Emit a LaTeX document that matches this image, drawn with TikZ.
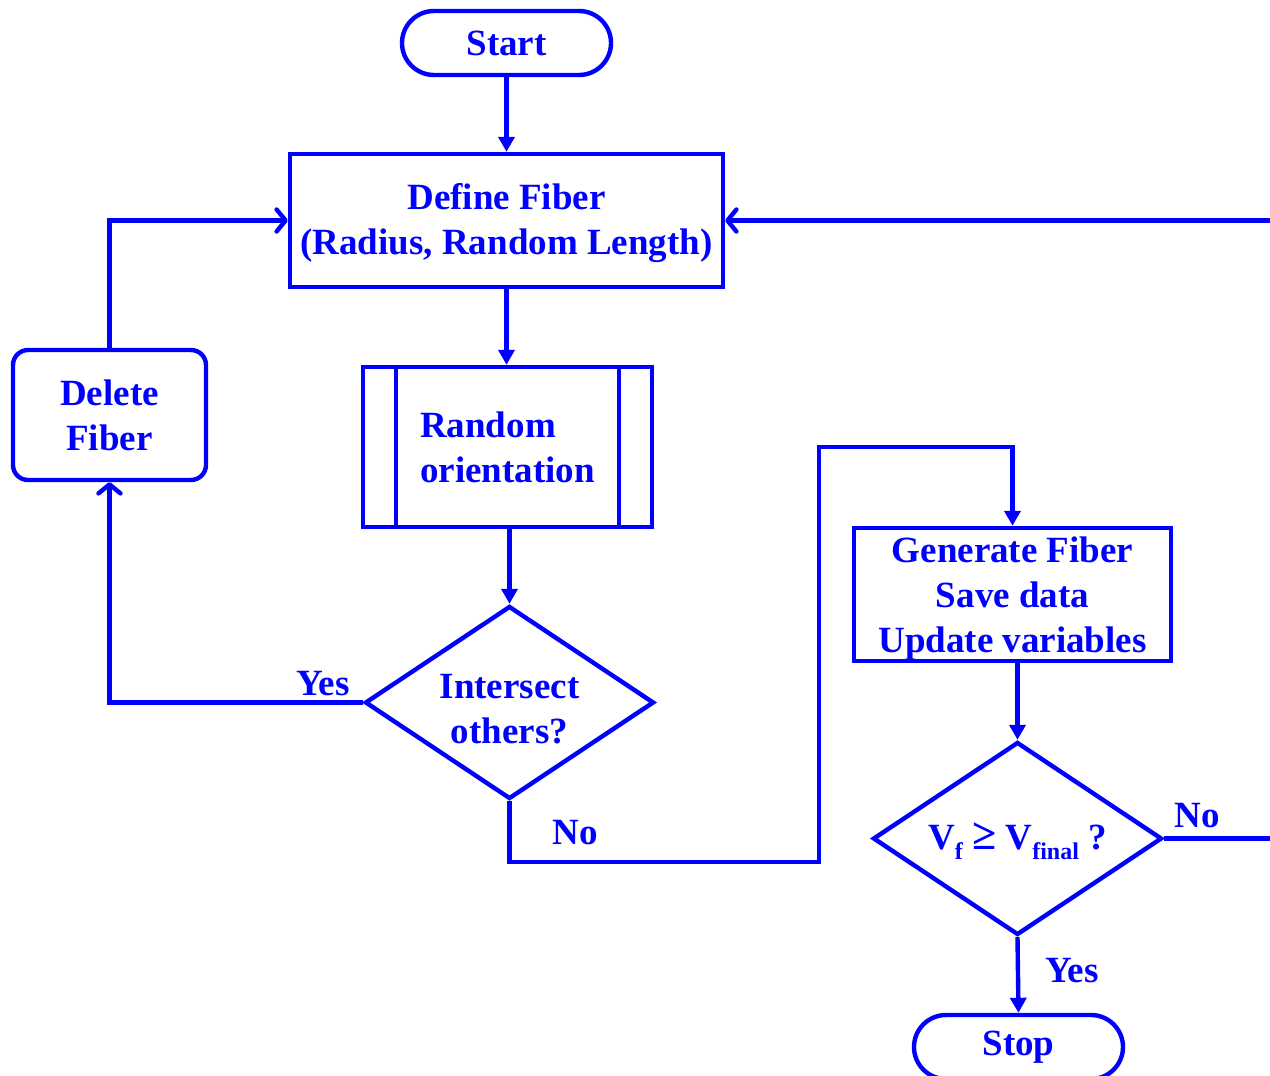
\documentclass[tikz,border=0pt]{standalone}
\usepackage{fontspec}
\setmainfont{Liberation Serif}
\usetikzlibrary{arrows.meta,shapes.geometric}
\definecolor{flowblue}{RGB}{0,0,255}
\newcommand{\lowidx}[1]{\raisebox{-0.6ex}{\fontsize{24}{24}\selectfont #1}}

\begin{document}
\begin{tikzpicture}[
  x=1pt, y=-1pt,
  flowblue, line width=4.4pt,
  font=\fontsize{37}{45}\selectfont\bfseries,
  term/.style={draw, rounded corners=32pt, minimum width=209pt, minimum height=64pt},
  proc/.style={draw, align=center, inner sep=0pt},
  dec/.style={draw, diamond, aspect=1.5, inner sep=0pt, align=center,
    minimum width=289pt, minimum height=193pt},
  lbl/.style={inner sep=0pt},
  fillarr/.style={-{Triangle[length=15pt,width=16pt]}},
  openarr/.style={-{Straight Barb[length=9pt,width=22pt,round]}}
]
\useasboundingbox (0,0) rectangle (1270,1076);
\clip (0,0) rectangle (1270,1076);

% boxes
\node[term] (start) at (506.5,43) {Start};
\node[proc, minimum width=433pt, minimum height=133pt,
  label={[lbl, align=center, yshift=-3pt]center:{Define Fiber\\(Radius, Random Length)}}] (def)
  at (506.5,220.5) {};
\node[proc, align=left, minimum width=289pt, minimum height=160pt] (rand) at (507.5,447)
  {Random\\orientation};
\draw ([xshift=35pt]rand.north west) -- ([xshift=35pt]rand.south west);
\draw ([xshift=-35pt]rand.north east) -- ([xshift=-35pt]rand.south east);
\node[dec, label={[lbl, align=center, yshift=-7pt]center:{Intersect\\others?}}] (inter)
  at (509.5,702.5) {};
\node[proc, rounded corners=15pt, minimum width=193pt, minimum height=130pt] (del) at (109.5,415)
  {Delete\\Fiber};
\node[proc, minimum width=317pt, minimum height=133pt,
  label={[lbl, align=center, yshift=-4pt]center:{Generate Fiber\\Save data\\Update variables}}] (gen)
  at (1012.5,594.5) {};
\node[dec, label={[lbl, yshift=-3pt]center:{V\lowidx{f} {\fontsize{44}{44}\selectfont ≥} V\lowidx{final} ?}}] (vf)
  at (1017.5,838.5) {};
\node[term] (stop) at (1018.5,1047) {Stop};

% bends
\coordinate (low) at (819,862);
\coordinate (jog) at (819,447);
\coordinate (loopR) at (1300,838.5);

% connectors
\draw[fillarr] (start) -- (def);
\draw[fillarr] (def) -- (def |- rand.north);
\draw[fillarr] (rand.south -| inter.north) -- (inter.north);
\draw[openarr] (inter.west) -| (del.south);
\draw[openarr] (del.north) |- (def.west);
\draw[fillarr] (inter.south) |- (low) -- (jog) -| (gen.north);
\draw[fillarr] (gen.south -| vf.north) -- (vf.north);
\draw[fillarr] (vf.south) -- (stop.north);
\draw[openarr] (vf.east) -- (loopR) |- (def.east);

% labels
\node[lbl] (yes1) at (323,684) {Yes};
\node[lbl] (no1) at (575,833) {No};
\node[lbl] (no2) at (1197,816) {No};
\node[lbl] (yes2) at (1072,971) {Yes};
\end{tikzpicture}
\end{document}
